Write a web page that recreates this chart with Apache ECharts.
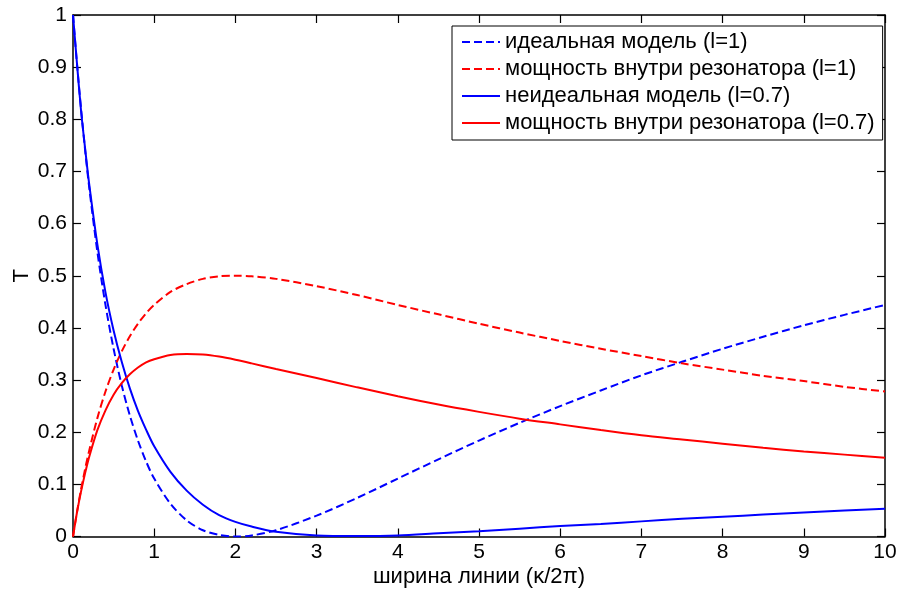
<!DOCTYPE html>
<html>
<head>
<meta charset="utf-8">
<script src="https://cdn.jsdelivr.net/npm/echarts@6/dist/echarts.min.js"></script>
<style>
  html, body { margin: 0; padding: 0; background: #fff; }
  #chart { width: 899px; height: 589px; }
</style>
</head>
<body>
<div id="chart"></div>
<script>
// ширина линии (kappa/2pi) - общие точки по оси X
const kappa = [0, 0.05, 0.1, 0.15, 0.2, 0.3, 0.4, 0.5, 0.6, 0.7, 0.8, 0.9, 1, 1.2, 1.4, 1.6, 1.8, 2, 2.2, 2.5,
  3, 3.5, 4, 4.5, 5, 5.5, 6, 6.5, 7, 7.5, 8, 8.5, 9, 9.5, 10]

// идеальная модель (l=1), пунктир синий
const idealT = [1, 0.905, 0.819, 0.740, 0.669, 0.546, 0.444, 0.360, 0.290, 0.232, 0.184, 0.144, 0.111, 0.063, 0.031, 0.012, 0.003, 0, 0.002, 0.012,
  0.040, 0.074, 0.111, 0.148, 0.184, 0.218, 0.250, 0.280, 0.309, 0.335, 0.360, 0.383, 0.405, 0.425, 0.444]

// мощность внутри резонатора (l=1), пунктир красный
const idealP = [0, 0.048, 0.091, 0.130, 0.165, 0.227, 0.278, 0.320, 0.355, 0.384, 0.408, 0.428, 0.444, 0.469, 0.484, 0.494, 0.499, 0.500, 0.499, 0.494,
  0.480, 0.463, 0.444, 0.426, 0.408, 0.391, 0.375, 0.360, 0.346, 0.332, 0.320, 0.308, 0.298, 0.287, 0.278]

// неидеальная модель (l=0.7), сплошная синяя
const lossyT = [1, 0.905, 0.815, 0.743, 0.675, 0.560, 0.468, 0.395, 0.335, 0.284, 0.241, 0.205, 0.173, 0.124, 0.088, 0.061, 0.041, 0.028, 0.019, 0.009,
  0.002, 0.001, 0.002, 0.006, 0.010, 0.015, 0.020, 0.024, 0.029, 0.034, 0.038, 0.042, 0.046, 0.050, 0.053]

// мощность внутри резонатора (l=0.7), сплошная красная
const lossyP = [0, 0.047, 0.087, 0.122, 0.153, 0.204, 0.242, 0.272, 0.294, 0.311, 0.324, 0.334, 0.340, 0.348, 0.350, 0.349, 0.345, 0.339, 0.332, 0.321,
  0.304, 0.286, 0.269, 0.253, 0.239, 0.226, 0.215, 0.204, 0.194, 0.186, 0.178, 0.170, 0.163, 0.157, 0.151]

const seriesNames = [
  'идеальная модель (l=1)',
  'мощность внутри резонатора (l=1)',
  'неидеальная модель (l=0.7)',
  'мощность внутри резонатора (l=0.7)'
]

const fontFam = '"Liberation Sans", Arial, sans-serif'
const blue = '#0000ff', red = '#ff0000'

function pairs(ys) {
  return kappa.map((x, i) => [x, ys[i]])
}

function mkSeries(name, ys, color, dashed) {
  return {
    name: name,
    type: 'line',
    xAxisIndex: 0,
    yAxisIndex: 0,
    data: pairs(ys),
    symbol: 'none',
    smooth: 0.3,
    lineStyle: {
      color: color,
      width: 2,
      type: dashed ? [8, 4] : 'solid'
    },
    itemStyle: { color: color },
    animation: false
  }
}

const axisLineStyle = { show: true, onZero: false, lineStyle: { color: '#000', width: 1.5 } }
const tickStyle = { show: true, inside: true, length: 8, lineStyle: { color: '#000', width: 1.2 } }

const chart = echarts.init(document.getElementById('chart'), null, { renderer: 'canvas' })

chart.setOption({
  backgroundColor: '#fff',
  animation: false,
  grid: { left: 73, right: 14, top: 15, bottom: 52.5, containLabel: false, outerBoundsMode: 'none' },
  legend: {
    orient: 'vertical',
    left: 452,
    top: 26,
    data: seriesNames,
    itemWidth: 38,
    itemHeight: 14,
    itemGap: 5,
    padding: [5, 8, 6, 9],
    backgroundColor: '#fff',
    borderColor: '#000',
    borderWidth: 1,
    borderRadius: 0,
    selectedMode: false,
    itemStyle: { opacity: 0 },
    textStyle: { fontFamily: fontFam, fontSize: 22, color: '#000', lineHeight: 22 }
  },
  xAxis: [
    {
      type: 'value', min: 0, max: 10, interval: 1, position: 'bottom',
      name: 'ширина линии (κ/2π)', nameLocation: 'middle', nameGap: 29, nameMoveOverlap: false,
      nameTextStyle: { fontFamily: fontFam, fontSize: 22, color: '#000' },
      axisLine: axisLineStyle, axisTick: tickStyle,
      axisLabel: { fontFamily: fontFam, fontSize: 21, color: '#000', margin: 5 },
      splitLine: { show: false }
    },
    {
      type: 'value', min: 0, max: 10, interval: 1, position: 'top',
      axisLine: axisLineStyle, axisTick: tickStyle,
      axisLabel: { show: false }, splitLine: { show: false }
    }
  ],
  yAxis: [
    {
      type: 'value', min: 0, max: 1, interval: 0.1, position: 'left',
      name: 'T', nameLocation: 'middle', nameGap: 40, nameRotate: 90, nameMoveOverlap: false,
      nameTextStyle: { fontFamily: fontFam, fontSize: 22, color: '#000' },
      axisLine: axisLineStyle, axisTick: tickStyle,
      axisLabel: { fontFamily: fontFam, fontSize: 21, color: '#000', margin: 6 },
      splitLine: { show: false }
    },
    {
      type: 'value', min: 0, max: 1, interval: 0.1, position: 'right',
      axisLine: axisLineStyle, axisTick: tickStyle,
      axisLabel: { show: false }, splitLine: { show: false }
    }
  ],
  series: [
    mkSeries(seriesNames[0], idealT, blue, true),
    mkSeries(seriesNames[1], idealP, red, true),
    mkSeries(seriesNames[2], lossyT, blue, false),
    mkSeries(seriesNames[3], lossyP, red, false)
  ]
})
</script>
</body>
</html>
